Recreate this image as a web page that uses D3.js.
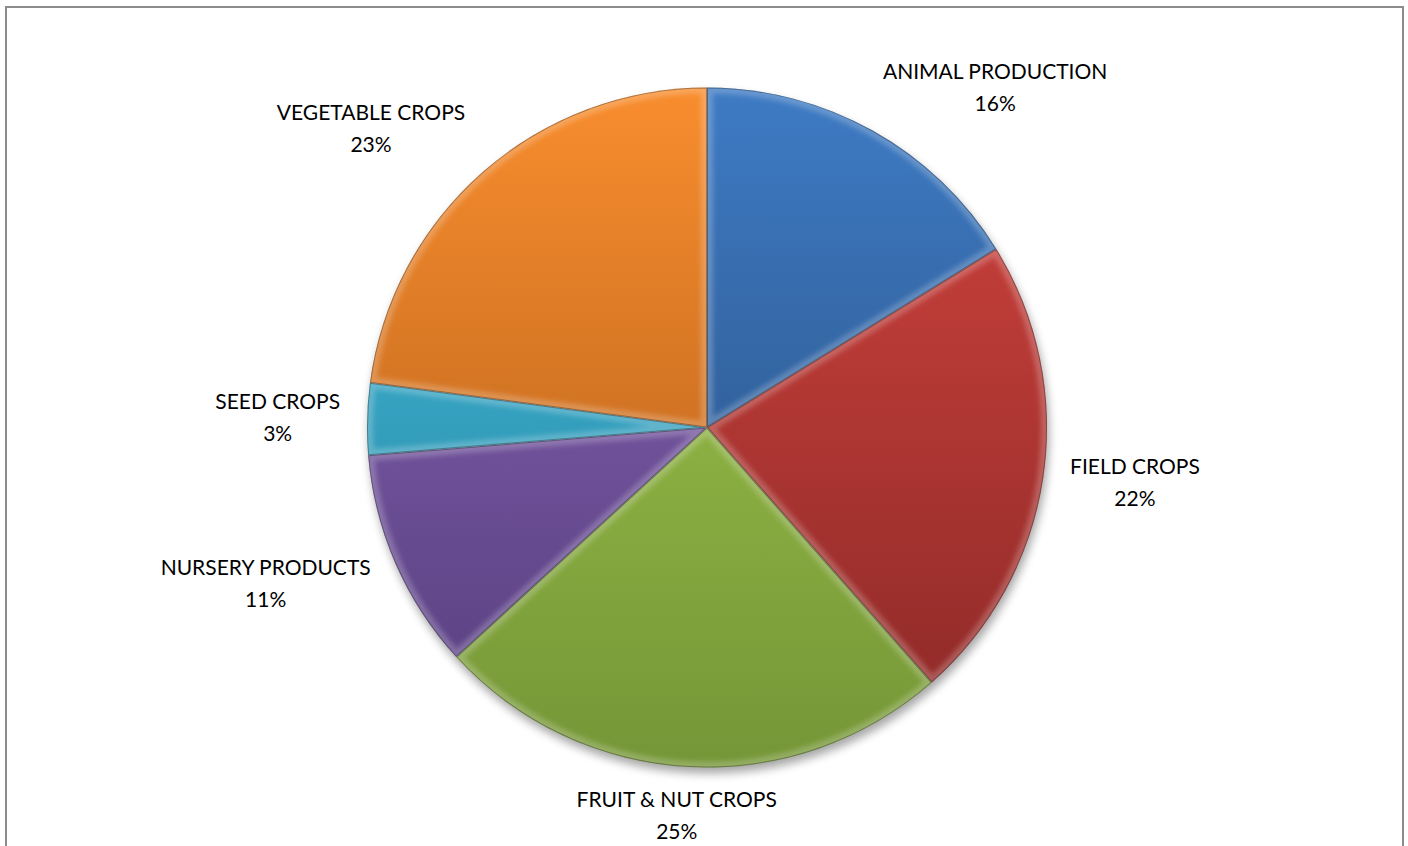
<!DOCTYPE html>
<html><head><meta charset="utf-8">
<script src="https://cdn.jsdelivr.net/npm/d3@7/dist/d3.min.js"></script>
<style>html,body{margin:0;padding:0;background:#fff;}svg{display:block;}</style>
</head><body>
<svg id="c" width="1408" height="846"></svg>
<script>
const categories = ["ANIMAL PRODUCTION","FIELD CROPS","FRUIT & NUT CROPS","NURSERY PRODUCTS","SEED CROPS","VEGETABLE CROPS"];
const values = [16.2, 22.3, 24.7, 10.5, 3.4, 22.9];
const colorsTop = ["#3e7bc4","#d2443f","#a4ca4e","#8a66b8","#46bede","#f88d2e"];
const colorsBottom = ["#264977","#8a2826","#759637","#553d7c","#227f9c","#a85818"];

const svg = d3.select("#c");
const W = 1408, H = 846;
const cx = 707, cy = 427.5, R = 340;

svg.append("rect").attr("x",6).attr("y",7).attr("width",1397).attr("height",H+10)
  .attr("fill","#fff").attr("stroke","#8c8c8c").attr("stroke-width",2);

const defs = svg.append("defs");
const sh = defs.append("filter").attr("id","shadow").attr("x","-20%").attr("y","-20%").attr("width","140%").attr("height","140%");
sh.append("feGaussianBlur").attr("in","SourceAlpha").attr("stdDeviation",5);
const blur = defs.append("filter").attr("id","bev").attr("x","-10%").attr("y","-10%").attr("width","120%").attr("height","120%");
blur.append("feGaussianBlur").attr("stdDeviation",2.5);

colorsTop.forEach((c,i)=>{
  const g = defs.append("linearGradient").attr("id","g"+i).attr("gradientUnits","userSpaceOnUse")
    .attr("x1",0).attr("y1",-R).attr("x2",0).attr("y2",R);
  g.append("stop").attr("offset","0%").attr("stop-color",c);
  g.append("stop").attr("offset","100%").attr("stop-color",colorsBottom[i]);
});

const pie = d3.pie().value(d=>d).sort(null);
const arcs = pie(values);
const arc = d3.arc().innerRadius(0).outerRadius(R);

const g = svg.append("g").attr("transform",`translate(${cx},${cy})`);
g.append("circle").attr("cx",2).attr("cy",6).attr("r",R).attr("fill","#000").attr("opacity",0.35).attr("filter","url(#shadow)");

arcs.forEach((a,i)=>{
  defs.append("clipPath").attr("id","clip"+i).append("path").attr("d",arc(a)).attr("transform",`translate(${cx},${cy})`);
});

const sl = g.selectAll("g.s").data(arcs).join("g").attr("class","s");
sl.append("path").attr("d",arc).attr("fill",(d,i)=>`url(#g${i})`);
sl.each(function(d,i){
  const gg = svg.append("g").attr("clip-path",`url(#clip${i})`);
  gg.append("path").attr("d",arc(d)).attr("transform",`translate(${cx},${cy})`)
    .attr("fill","none").attr("stroke","#fff").attr("stroke-opacity",0.22).attr("stroke-width",12).attr("filter","url(#bev)");
  gg.append("path").attr("d",arc(d)).attr("transform",`translate(${cx},${cy})`)
    .attr("fill","none").attr("stroke","#000").attr("stroke-opacity",0.3).attr("stroke-width",2);
});

// labels
const fontSize = 21, lineH = 32;
const lg = svg.append("g").attr("font-family","Lato, 'Open Sans', sans-serif").attr("font-size",fontSize).attr("fill","#000");
const clamp = v=>Math.max(-1,Math.min(1,v));
arcs.forEach((a,i)=>{
  const m = (a.startAngle + a.endAngle)/2;
  const s = Math.sin(m), c = Math.cos(m);
  const ax = cx + (R+27)*s, ay = cy - (R+24)*c;
  const t = lg.append("text").attr("text-anchor","middle");
  t.append("tspan").attr("x",0).attr("dy",0).text(categories[i]);
  t.append("tspan").attr("x",0).attr("dy",lineH).text(Math.round(values[i]*100/d3.sum(values))+"%");
  const w = t.node().getBBox().width;
  const lx = ax + w/2*clamp(2*s);
  const ly = ay - 25*c - 12*Math.max(0, -s*c);
  t.attr("transform",`translate(${lx},${ly - 8.5})`);
});
</script>
</body></html>
